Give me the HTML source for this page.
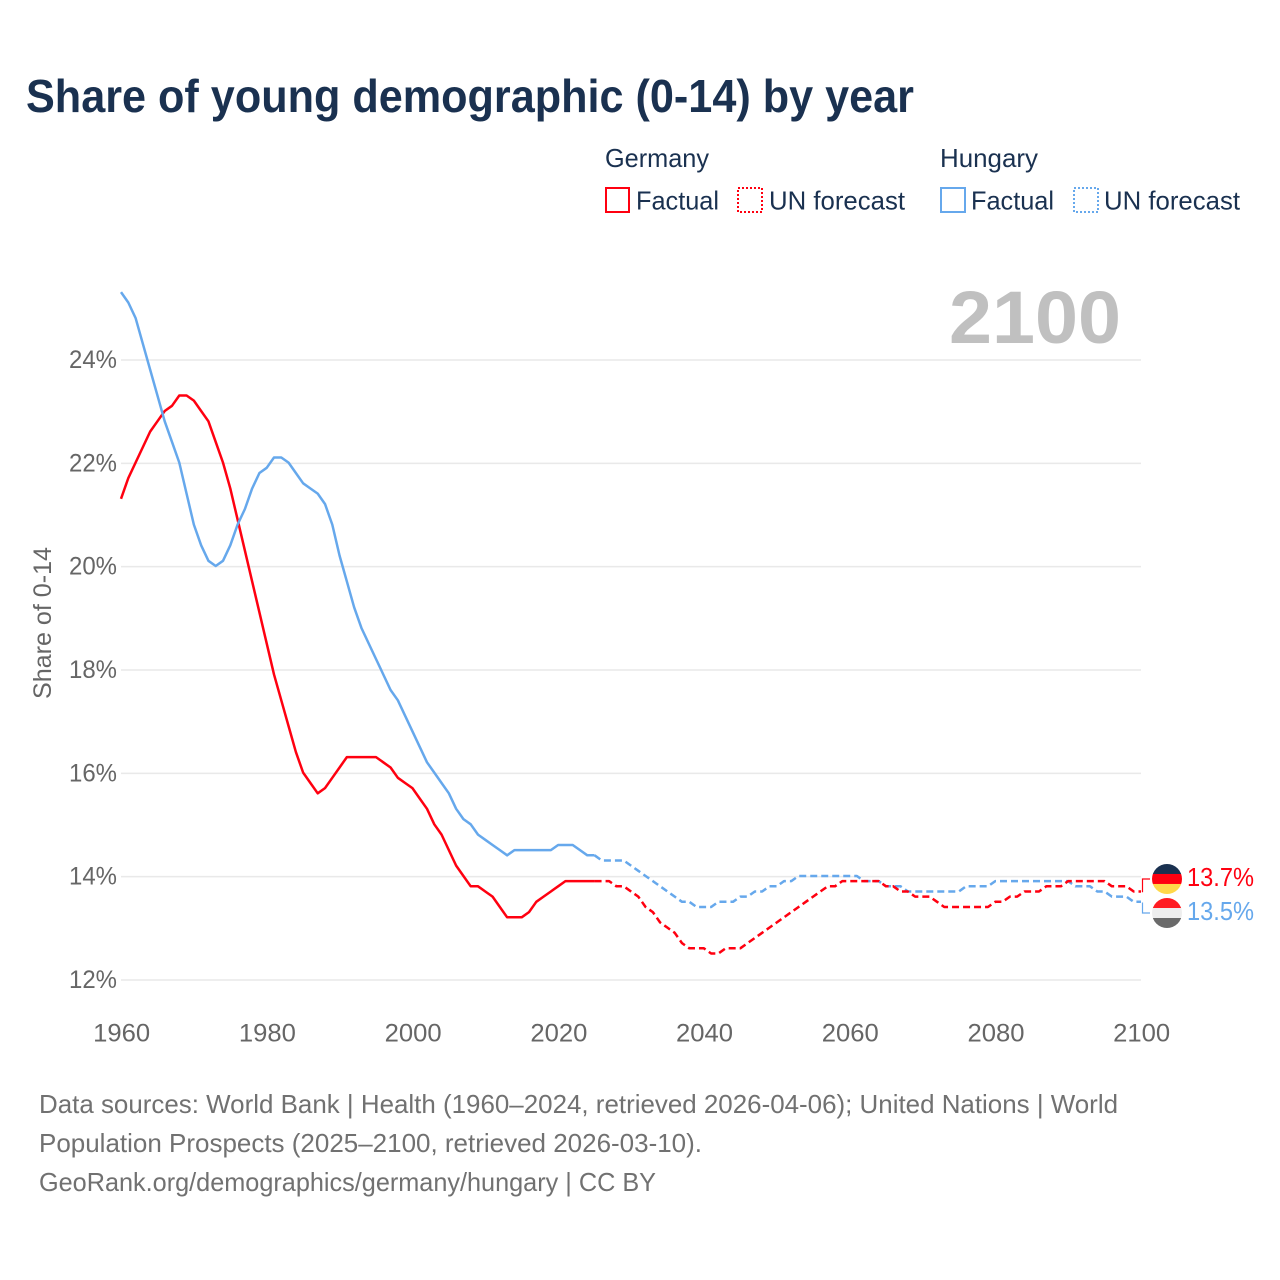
<!DOCTYPE html>
<html lang="en">
<head>
<meta charset="utf-8">
<title>Share of young demographic (0-14) by year</title>
<style>
html,body{margin:0;padding:0;background:#fff;}
svg{display:block;}
text{font-family:"Liberation Sans",sans-serif;}
</style>
</head>
<body>
<svg id="chart" xmlns="http://www.w3.org/2000/svg" width="1280" height="1280" viewBox="0 0 1280 1280">
<rect x="0" y="0" width="1280" height="1280" fill="#ffffff"/>
<text x="26" y="112" font-size="46" font-weight="700" fill="#1a3150" textLength="888" lengthAdjust="spacingAndGlyphs">Share of young demographic (0-14) by year</text>

<g font-size="26" fill="#1a3150">
<text x="605" y="167" textLength="104" lengthAdjust="spacingAndGlyphs">Germany</text>
<rect x="606" y="188" width="23" height="24" fill="none" stroke="#ff0010" stroke-width="2"/>
<text x="636" y="209.5" textLength="83" lengthAdjust="spacingAndGlyphs">Factual</text>
<rect x="738" y="188" width="24" height="24" fill="none" stroke="#ff0010" stroke-width="2" stroke-dasharray="2 2"/>
<text x="769" y="209.5" textLength="136" lengthAdjust="spacingAndGlyphs">UN forecast</text>
<text x="940" y="167" textLength="98" lengthAdjust="spacingAndGlyphs">Hungary</text>
<rect x="941" y="188" width="24" height="24" fill="none" stroke="#66a8ec" stroke-width="2"/>
<text x="971" y="209.5" textLength="83" lengthAdjust="spacingAndGlyphs">Factual</text>
<rect x="1074" y="188" width="24" height="24" fill="none" stroke="#66a8ec" stroke-width="2" stroke-dasharray="2 2"/>
<text x="1104" y="209.5" textLength="136" lengthAdjust="spacingAndGlyphs">UN forecast</text>
</g>

<g id="grid"></g>
<text x="949" y="343" font-size="74" font-weight="700" fill="#c0c0c0" textLength="172" lengthAdjust="spacingAndGlyphs">2100</text>
<g id="yticks" font-size="25" fill="#666666"></g>
<g id="xticks" font-size="25" fill="#666666"></g>
<text transform="translate(51 699) rotate(-90)" font-size="25" fill="#666666" textLength="152" lengthAdjust="spacingAndGlyphs">Share of 0-14</text>
<g id="series" transform="translate(0 -0.7)"></g>
<g id="ends"></g>

<g font-size="26" fill="#717171">
<text x="39" y="1113" textLength="1079" lengthAdjust="spacingAndGlyphs">Data sources: World Bank | Health (1960–2024, retrieved 2026-04-06); United Nations | World</text>
<text x="39" y="1152" textLength="663" lengthAdjust="spacingAndGlyphs">Population Prospects (2025–2100, retrieved 2026-03-10).</text>
<text x="39" y="1191" textLength="617" lengthAdjust="spacingAndGlyphs">GeoRank.org/demographics/germany/hungary | CC BY</text>
</g>
</svg>
<script>
const xTickLabels = [1960, 1980, 2000, 2020, 2040, 2060, 2080, 2100];
const yTickLabels = [12, 14, 16, 18, 20, 22, 24];
const factualStartYear = 1960;
const forecastStartYear = 2025;
const germanyFactual = [21.3,21.7,22.0,22.3,22.6,22.8,23.0,23.1,23.3,23.3,23.2,23.0,22.8,22.4,22.0,21.5,20.9,20.3,19.7,19.1,18.5,17.9,17.4,16.9,16.4,16.0,15.8,15.6,15.7,15.9,16.1,16.3,16.3,16.3,16.3,16.3,16.2,16.1,15.9,15.8,15.7,15.5,15.3,15.0,14.8,14.5,14.2,14.0,13.8,13.8,13.7,13.6,13.4,13.2,13.2,13.2,13.3,13.5,13.6,13.7,13.8,13.9,13.9,13.9,13.9,13.9];
const germanyForecast = [13.9,13.9,13.9,13.8,13.8,13.7,13.6,13.4,13.3,13.1,13.0,12.9,12.7,12.6,12.6,12.6,12.5,12.5,12.6,12.6,12.6,12.7,12.8,12.9,13.0,13.1,13.2,13.3,13.4,13.5,13.6,13.7,13.8,13.8,13.9,13.9,13.9,13.9,13.9,13.9,13.8,13.8,13.7,13.7,13.6,13.6,13.6,13.5,13.4,13.4,13.4,13.4,13.4,13.4,13.4,13.5,13.5,13.6,13.6,13.7,13.7,13.7,13.8,13.8,13.8,13.9,13.9,13.9,13.9,13.9,13.9,13.8,13.8,13.8,13.7,13.7];
const hungaryFactual = [25.3,25.1,24.8,24.3,23.8,23.3,22.8,22.4,22.0,21.4,20.8,20.4,20.1,20.0,20.1,20.4,20.8,21.1,21.5,21.8,21.9,22.1,22.1,22.0,21.8,21.6,21.5,21.4,21.2,20.8,20.2,19.7,19.2,18.8,18.5,18.2,17.9,17.6,17.4,17.1,16.8,16.5,16.2,16.0,15.8,15.6,15.3,15.1,15.0,14.8,14.7,14.6,14.5,14.4,14.5,14.5,14.5,14.5,14.5,14.5,14.6,14.6,14.6,14.5,14.4,14.4];
const hungaryForecast = [14.4,14.3,14.3,14.3,14.3,14.2,14.1,14.0,13.9,13.8,13.7,13.6,13.5,13.5,13.4,13.4,13.4,13.5,13.5,13.5,13.6,13.6,13.7,13.7,13.8,13.8,13.9,13.9,14.0,14.0,14.0,14.0,14.0,14.0,14.0,14.0,14.0,13.9,13.9,13.9,13.8,13.8,13.8,13.7,13.7,13.7,13.7,13.7,13.7,13.7,13.7,13.8,13.8,13.8,13.8,13.9,13.9,13.9,13.9,13.9,13.9,13.9,13.9,13.9,13.9,13.9,13.8,13.8,13.8,13.7,13.7,13.6,13.6,13.6,13.5,13.5];

const NS = 'http://www.w3.org/2000/svg';
function xScale(year) { return 121 + (year - 1960) * (1141 - 121) / 140; }
function yScale(v) { return 980 - (v - 12) * (980 - 360) / 12; }
function pathFor(values, startYear) {
  return values.map(function (v, i) {
    return (i ? 'L' : 'M') + xScale(startYear + i).toFixed(2) + ' ' + yScale(v).toFixed(2);
  }).join(' ');
}
function make(tag, attrs, parent, content) {
  const el = document.createElementNS(NS, tag);
  Object.keys(attrs).forEach(function (k) { el.setAttribute(k, attrs[k]); });
  if (content !== undefined) el.textContent = content;
  parent.appendChild(el);
  return el;
}

const grid = document.getElementById('grid');
const yticks = document.getElementById('yticks');
const xticks = document.getElementById('xticks');
const series = document.getElementById('series');
const ends = document.getElementById('ends');

yTickLabels.forEach(function (t) {
  const line = make('line', { x1: 121, x2: 1141, y1: yScale(t), y2: yScale(t), stroke: '#e9e9e9', 'stroke-width': 1.5 }, grid);
  
  
  const label = make('text', { x: 117, y: yScale(t) + 8, 'text-anchor': 'end', textLength: 48, lengthAdjust: 'spacingAndGlyphs' }, yticks, t + '%');
  
  
});

xTickLabels.forEach(function (t) {
  const label = make('text', { x: xScale(t) + 0.7, y: 1041.5, 'text-anchor': 'middle', textLength: 57, lengthAdjust: 'spacingAndGlyphs' }, xticks, String(t));
  
  
});

function drawLine(name, color, values, startYear, dash) {
  const p = make('path', { d: pathFor(values, startYear), fill: 'none', stroke: color, 'stroke-width': 2.5, 'stroke-linejoin': 'round' }, series);
  if (dash) p.setAttribute('stroke-dasharray', dash);
  
  
}
drawLine('germany-factual-line', '#ff0010', germanyFactual, factualStartYear, null);
drawLine('hungary-factual-line', '#66a8ec', hungaryFactual, factualStartYear, null);
drawLine('hungary-forecast-line', '#66a8ec', hungaryForecast, forecastStartYear, '7 4');
drawLine('germany-forecast-line', '#ff0010', germanyForecast, forecastStartYear, '7 4');

function drawEnd(name, color, value, offset, bands) {
  const endY = yScale(value);
  const cy = endY + offset;
  const conn = make('path', { d: 'M1142.5 ' + endY.toFixed(1) + ' V' + cy.toFixed(1) + ' H1150', fill: 'none', stroke: color, 'stroke-width': 1.2 }, ends);
  
  
  const flag = make('g', {}, ends);
  
  
  const clip = make('clipPath', { id: name + '-clip' }, flag);
  make('circle', { cx: 1167, cy: cy, r: 15 }, clip);
  const inner = make('g', { 'clip-path': 'url(#' + name + '-clip)' }, flag);
  bands.forEach(function (c, i) {
    make('rect', { x: 1152, y: cy - 15 + i * 10, width: 30, height: 10.2, fill: c }, inner);
  });
  const lbl = make('text', { x: 1187, y: cy + 6.8, 'font-size': 26, fill: color, textLength: 67, lengthAdjust: 'spacingAndGlyphs' }, ends, value.toFixed(1) + '%');
  
  
}
drawEnd('hungary', '#66a8ec', hungaryForecast[hungaryForecast.length - 1], 10.5, ['#ff1c22', '#eeeeee', '#6a6a6a']);
drawEnd('germany', '#ff0010', germanyForecast[germanyForecast.length - 1], -13.2, ['#1a3150', '#ff0010', '#ffd84a']);
</script>
</body>
</html>
